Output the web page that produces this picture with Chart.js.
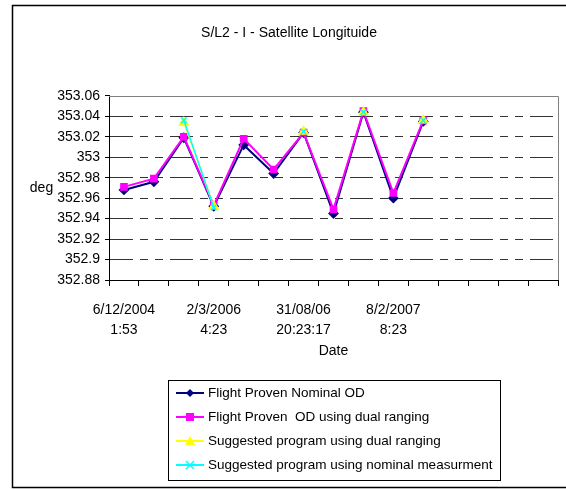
<!DOCTYPE html>
<html>
<head>
<meta charset="utf-8">
<script src="https://cdn.jsdelivr.net/npm/chart.js"></script>
<style>
  html, body { margin: 0; padding: 0; background: #fff; }
  canvas { display: block; }
</style>
</head>
<body>
<canvas id="c" width="566" height="490"></canvas>
<script>
// ---- Data ----
const categories = [
  ['6/12/2004', '1:53'], '', '',
  ['2/3/2006', '4:23'], '', '',
  ['31/08/06', '20:23:17'], '', '',
  ['8/2/2007', '8:23'], '', '', '', '', ''
];
const flightNominalOD = [352.968, 352.976, 353.019, 352.952, 353.012, 352.984, 353.024, 352.945, 353.044, 352.960, 353.035];
const flightDualRanging = [352.971, 352.979, 353.020, 352.953, 353.018, 352.988, 353.024, 352.949, 353.045, 352.965, 353.036];
const suggestedDualRanging = [null, null, 353.034, 352.952, null, null, 353.025, null, 353.044, null, 353.036];
const suggestedNominal = [null, null, 353.036, 352.951, null, null, 353.025, null, 353.044, null, 353.036];
const seriesNames = [
  'Flight Proven Nominal OD',
  'Flight Proven  OD using dual ranging',
  'Suggested program using dual ranging',
  'Suggested program using nominal measurment'
];
const yMin = 352.88, yMax = 353.06, yStep = 0.02;

const FONT = "'Liberation Sans', Arial, sans-serif";
Chart.defaults.font.family = FONT;
Chart.defaults.font.size = 14;
Chart.defaults.color = '#000';

function drawMarker(ctx, style, x, y, r) {
  ctx.beginPath();
  if (style === 'rect') {
    ctx.rect(x - r, y - r, 2 * r, 2 * r);
    ctx.fill();
  } else if (style === 'rectRot') {
    ctx.moveTo(x, y - r); ctx.lineTo(x + r, y); ctx.lineTo(x, y + r); ctx.lineTo(x - r, y); ctx.closePath();
    ctx.fill();
  } else if (style === 'triangle') {
    ctx.moveTo(x, y - r); ctx.lineTo(x + r, y + r * 0.8); ctx.lineTo(x - r, y + r * 0.8); ctx.closePath();
    ctx.fill();
  } else if (style === 'crossRot') {
    ctx.moveTo(x - r, y - r); ctx.lineTo(x + r, y + r);
    ctx.moveTo(x + r, y - r); ctx.lineTo(x - r, y + r);
    ctx.stroke();
  }
}

const framePlugin = {
  id: 'frame',
  beforeDraw(chart) {
    const ctx = chart.ctx;
    ctx.save();
    ctx.fillStyle = '#fff';
    ctx.fillRect(0, 0, chart.width, chart.height);
    ctx.strokeStyle = '#000';
    ctx.lineWidth = 1.5;
    ctx.strokeRect(12.5, 5.5, 570, 482);
    ctx.restore();
  },
  afterDraw(chart) {
    const ctx = chart.ctx, ca = chart.chartArea;
    ctx.save();
    // plot area top / right border
    ctx.strokeStyle = '#808080';
    ctx.lineWidth = 1;
    ctx.beginPath();
    ctx.moveTo(ca.left, Math.round(ca.top) + 0.5);
    ctx.lineTo(Math.round(ca.right) + 0.5, Math.round(ca.top) + 0.5);
    ctx.lineTo(Math.round(ca.right) + 0.5, ca.bottom);
    ctx.stroke();
    // horizontal "deg" axis label
    ctx.fillStyle = '#000';
    ctx.font = '14px ' + FONT;
    ctx.textAlign = 'center';
    ctx.textBaseline = 'middle';
    ctx.fillText('deg', ca.left - 67.5, (ca.top + ca.bottom) / 2);
    // boxed legend
    const cx = (ca.left + ca.right) / 2;
    const w = 332, h = 100;
    const left = Math.round(cx - w / 2);
    const top = Math.round(chart.scales.x.bottom + 18);
    ctx.strokeStyle = '#000';
    ctx.lineWidth = 1;
    ctx.strokeRect(left + 0.5, top + 0.5, w, h);
    ctx.textAlign = 'left';
    ctx.font = '13.5px ' + FONT;
    chart.data.datasets.forEach((ds, i) => {
      const y = top + 13 + i * 24;
      const x0 = left + 8, x1 = left + 36;
      ctx.strokeStyle = ds.borderColor;
      ctx.lineWidth = 2;
      ctx.beginPath(); ctx.moveTo(x0, y); ctx.lineTo(x1, y); ctx.stroke();
      ctx.fillStyle = ds.pointBackgroundColor;
      ctx.strokeStyle = ds.pointBorderColor;
      ctx.lineWidth = 1.5;
      drawMarker(ctx, ds.pointStyle, (x0 + x1) / 2, y, ds.pointRadius);
      ctx.fillStyle = '#000';
      ctx.fillText(ds.label, left + 40, y);
    });
    ctx.restore();
  }
};

const gridDash = [23, 7, 8, 7, 8, 7];

new Chart(document.getElementById('c'), {
  type: 'line',
  data: {
    labels: categories,
    datasets: [
      { label: seriesNames[0], data: flightNominalOD, borderColor: '#000080', backgroundColor: '#000080',
        pointBackgroundColor: '#000080', pointBorderColor: '#000080', pointStyle: 'rectRot', pointRadius: 4,
        borderWidth: 2, order: 3 },
      { label: seriesNames[1], data: flightDualRanging, borderColor: '#FF00FF', backgroundColor: '#FF00FF',
        pointBackgroundColor: '#FF00FF', pointBorderColor: '#FF00FF', pointStyle: 'rect', pointRadius: 4,
        borderWidth: 2, order: 2 },
      { label: seriesNames[2], data: suggestedDualRanging, borderColor: '#FFFF00', backgroundColor: '#FFFF00',
        pointBackgroundColor: '#FFFF00', pointBorderColor: '#FFFF00', pointStyle: 'triangle', pointRadius: 5,
        borderWidth: 1.5, order: 1, spanGaps: false },
      { label: seriesNames[3], data: suggestedNominal, borderColor: '#00FFFF', backgroundColor: '#00FFFF',
        pointBackgroundColor: '#00FFFF', pointBorderColor: '#00FFFF', pointStyle: 'crossRot', pointRadius: 4,
        pointBorderWidth: 1.5, borderWidth: 1.5, order: 0, spanGaps: false }
    ]
  },
  options: {
    responsive: false,
    animation: false,
    devicePixelRatio: 1,
    layout: { padding: { top: 5, left: 20, right: 8, bottom: 128 } },
    plugins: {
      legend: { display: false },
      tooltip: { enabled: false },
      title: {
        display: true,
        text: 'S/L2 - I - Satellite Longituide',
        color: '#000',
        font: { size: 14, weight: 'normal', family: FONT, lineHeight: 1.2 },
        padding: { top: 20, bottom: 54 }
      }
    },
    scales: {
      x: {
        offset: true,
        grid: { offset: true, drawOnChartArea: false, drawTicks: true, tickLength: 6, tickColor: '#000', tickWidth: 1 },
        border: { display: true, color: '#000', width: 1 },
        ticks: { autoSkip: false, maxRotation: 0, minRotation: 0, padding: 14, color: '#000',
                 font: { size: 14, family: FONT, lineHeight: 1.45 } },
        title: { display: true, text: 'Date', color: '#000', font: { size: 14, family: FONT }, padding: { top: 0, bottom: 2 } },
        afterFit(scale) { scale.height = 82; }
      },
      y: {
        min: yMin, max: yMax,
        grid: {
          color: (c) => (c.tick && (Math.abs(c.tick.value - yMin) < 1e-6 || Math.abs(c.tick.value - yMax) < 1e-6)) ? 'rgba(0,0,0,0)' : '#333',
          lineWidth: 1,
          drawTicks: true, tickLength: 4, tickColor: '#000', tickBorderDash: []
        },
        border: { display: true, color: '#000', width: 1, dash: gridDash },
        ticks: {
          stepSize: yStep, autoSkip: false, padding: 5, color: '#000',
          font: { size: 14, family: FONT },
          callback: (v) => String(Number(Number(v).toFixed(2)))
        },
        afterFit(scale) { scale.width = 89; }
      }
    }
  },
  plugins: [framePlugin]
});
</script>
</body>
</html>
